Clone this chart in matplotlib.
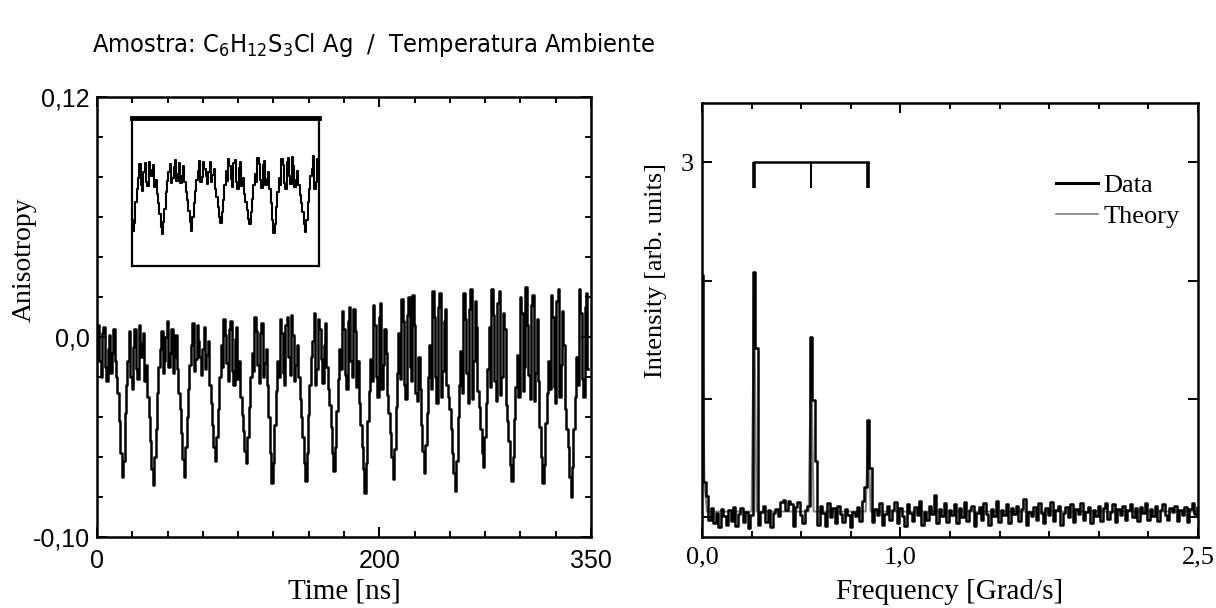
import numpy as np
import matplotlib.pyplot as plt
from matplotlib.lines import Line2D
from matplotlib.ticker import MultipleLocator

plt.rcParams['mathtext.fontset'] = 'custom'
plt.rcParams['mathtext.rm'] = 'DejaVu Sans:stretch=condensed'

# left panel: anisotropy, 1 ns samples
# (kept as two lists: even ns and odd ns)
anis_even = [
    -0.004, -0.012, 0.002, -0.015, -0.006, -0.018, 0.004, -0.020, -0.042, -0.070,
    -0.038, -0.012, -0.020, -0.005, -0.016, 0.006, -0.010, -0.022, -0.030, -0.052,
    -0.074, -0.046, -0.015, 0.003, -0.012, 0.008, -0.008, -0.018, 0.001, -0.028,
    -0.048, -0.070, -0.040, -0.014, 0.007, -0.011, -0.002, -0.019, 0.005, -0.009,
    -0.024, -0.044, -0.062, -0.036, -0.004, 0.009, -0.013, 0.004, -0.017, -0.001,
    -0.021, -0.030, -0.047, -0.063, -0.035, -0.008, 0.010, -0.014, 0.002, -0.020,
    -0.006, -0.040, -0.073, -0.044, -0.012, 0.009, -0.018, 0.006, -0.010, 0.011,
    -0.022, -0.004, -0.031, -0.050, -0.072, -0.039, -0.010, 0.012, -0.016, 0.004,
    -0.023, 0.007, -0.026, -0.045, -0.067, -0.037, -0.006, 0.013, -0.019, 0.008,
    -0.012, 0.014, -0.025, -0.033, -0.055, -0.078, -0.042, -0.011, 0.016, -0.020,
    0.010, -0.026, 0.004, -0.029, -0.048, -0.071, -0.035, 0.002, 0.019, -0.024,
    0.011, -0.015, 0.021, -0.028, -0.010, -0.044, -0.068, -0.038, -0.004, 0.023,
    -0.020, 0.015, -0.030, 0.008, -0.024, -0.036, -0.058, -0.077, -0.040, -0.007,
    0.022, -0.018, 0.014, -0.031, 0.018, -0.027, -0.046, -0.065, -0.033, 0.005,
    0.024, -0.022, 0.017, -0.029, 0.012, -0.034, -0.052, -0.072, -0.041, -0.009,
    0.020, -0.027, 0.025, -0.019, 0.016, -0.032, 0.009, -0.045, -0.073, -0.043,
    -0.012, 0.021, -0.025, 0.018, -0.030, 0.013, -0.036, -0.055, -0.080, -0.046,
    -0.010, 0.024, -0.021, 0.015, -0.016,
]
anis_odd = [
    0.006, -0.020, 0.005, -0.022, 0.001, -0.008, -0.012, -0.028, -0.058, -0.062,
    -0.024, 0.003, -0.026, 0.004, -0.021, -0.003, 0.002, -0.014, -0.040, -0.066,
    -0.060, -0.028, -0.006, -0.018, 0.000, -0.015, 0.004, -0.010, -0.016, -0.036,
    -0.061, -0.055, -0.026, -0.004, -0.017, 0.006, -0.010, -0.006, -0.016, -0.002,
    -0.033, -0.055, -0.050, -0.020, -0.015, 0.001, -0.022, 0.008, -0.024, 0.005,
    -0.012, -0.039, -0.057, -0.050, -0.020, -0.017, 0.003, -0.023, 0.007, -0.013,
    -0.024, -0.058, -0.063, -0.027, -0.020, 0.002, -0.024, 0.010, -0.019, 0.001,
    -0.014, -0.020, -0.040, -0.063, -0.058, -0.024, -0.002, -0.024, 0.009, -0.011,
    -0.004, -0.015, -0.034, -0.058, -0.055, -0.021, -0.016, 0.004, -0.026, 0.015,
    -0.020, 0.003, -0.012, -0.044, -0.066, -0.063, -0.027, -0.022, 0.006, -0.030,
    0.017, -0.014, -0.008, -0.038, -0.060, -0.056, -0.018, -0.021, 0.008, -0.031,
    0.020, -0.022, 0.006, -0.032, -0.026, -0.057, -0.054, -0.020, -0.026, 0.010,
    -0.033, 0.022, -0.017, 0.014, -0.030, -0.046, -0.068, -0.062, -0.024, -0.028,
    0.009, -0.033, 0.024, -0.012, 0.005, -0.035, -0.058, -0.050, -0.016, -0.025,
    0.011, -0.032, 0.023, -0.020, 0.004, -0.042, -0.064, -0.060, -0.025, -0.030,
    0.012, -0.015, 0.006, -0.031, 0.021, -0.018, -0.022, -0.060, -0.064, -0.028,
    -0.026, 0.010, -0.033, 0.024, -0.014, -0.004, -0.046, -0.070, -0.065, -0.030,
    -0.024, 0.012, -0.030, 0.022,
]
inset_window = (17, 158)

# right panel: spectrum on a 0.0125 Grad/s grid
freq = np.linspace(0, 2.5, 201)
intensity = [
    2.05, 0.30, 0.18, -0.02, 0.08, -0.05, 0.04, -0.08, 0.07, 0.01,
    -0.06, 0.06, -0.03, 0.09, -0.07, 0.03, 0.08, -0.04, 0.05, -0.09,
    0.02, 2.07, 1.43, -0.06, 0.05, 0.10, -0.04, 0.06, -0.08, 0.04,
    0.07, 0.01, 0.13, 0.15, 0.06, 0.14, 0.11, -0.07, 0.09, 0.13,
    0.02, -0.05, 0.06, 0.10, 1.52, 0.99, 0.48, -0.06, 0.10, 0.04,
    -0.07, 0.12, 0.00, 0.08, -0.05, 0.10, 0.03, -0.04, 0.07, 0.02,
    -0.08, 0.05, 0.01, 0.09, -0.03, 0.14, 0.26, 0.82, 0.42, -0.04,
    0.07, 0.02, 0.12, -0.06, 0.03, 0.10, -0.02, 0.06, 0.13, -0.05,
    0.08, 0.01, -0.07, 0.11, 0.04, -0.03, 0.09, 0.02, 0.14, -0.06,
    0.05, -0.02, 0.10, 0.03, 0.19, -0.05, 0.07, 0.01, 0.12, -0.04,
    0.06, 0.02, 0.11, -0.05, 0.08, 0.00, 0.13, -0.03, 0.06, 0.10,
    -0.07, 0.04, 0.09, -0.02, 0.12, 0.03, -0.06, 0.07, 0.01, 0.14,
    -0.04, 0.06, 0.02, 0.11, -0.05, 0.08, 0.03, 0.10, -0.03, 0.07,
    0.16, -0.06, 0.05, 0.01, 0.09, -0.02, 0.12, 0.04, -0.05, 0.08,
    0.02, 0.13, -0.03, 0.06, 0.10, -0.06, 0.04, 0.09, 0.00, 0.11,
    -0.04, 0.07, 0.03, 0.12, -0.02, 0.05, 0.09, -0.05, 0.06, 0.01,
    0.10, -0.03, 0.08, 0.12, -0.01, 0.05, 0.11, -0.04, 0.07, 0.02,
    0.10, -0.02, 0.06, 0.11, 0.00, 0.08, -0.03, 0.09, 0.04, 0.12,
    -0.02, 0.07, 0.01, 0.10, -0.03, 0.06, 0.11, 0.02, -0.02, 0.08,
    0.05, 0.10, -0.03, 0.06, 0.02, 0.09, -0.04, 0.07, 0.12, 0.03,
    0.09,
]
theory_freq = [0.0, 0.0125, 0.025, 0.25, 0.2625, 0.275, 0.5375, 0.55, 0.5625,
               0.825, 0.8375, 0.85, 2.5]
theory_int = [2.0, 0.28, 0.05, 0.05, 1.95, 0.05, 0.05, 1.45, 0.05,
              0.05, 0.78, 0.05, 0.05]
peak_freqs = [0.2625, 0.55, 0.8375]

# merge even / odd samples into one trace
anisotropy = np.empty(len(anis_even) + len(anis_odd))
anisotropy[0::2] = anis_even
anisotropy[1::2] = anis_odd
time_ns = np.arange(len(anisotropy))

serif = 'Liberation Serif'
sans = 'Liberation Sans'

fig = plt.figure(figsize=(12.16, 6.08), dpi=100)

fig.text(92/1216, 1 - 45/608,
         r'Amostra: C$_6$H$_{12}$S$_3$Cl Ag  /  Temperatura Ambiente',
         family='DejaVu Sans', stretch='condensed', fontsize=18.2,
         va='center', ha='left')

def style_axes(ax):
    for s in ax.spines.values():
        s.set_linewidth(1.8)
    ax.tick_params(which='both', direction='in', top=True, right=True, width=1.4)
    ax.tick_params(which='major', length=7, pad=9)
    ax.tick_params(which='minor', length=4)

# ---- left: anisotropy
ax1 = fig.add_axes([97/1216, 1 - 537/608, 494/1216, 440/608])
ax1.plot(time_ns, anisotropy, drawstyle='steps-mid', color='black', lw=1.8)
ax1.set_xlim(0, 350)
ax1.set_ylim(-0.10, 0.12)
ax1.set_xticks([0, 200, 350])
ax1.set_xticklabels(['0', '200', '350'], family=sans, fontsize=18)
ax1.set_yticks([-0.10, 0.0, 0.12])
ax1.set_yticklabels(['-0,10', '0,0', '0,12'], family=sans, fontsize=18)
ax1.xaxis.set_minor_locator(MultipleLocator(25))
ax1.yaxis.set_minor_locator(MultipleLocator(0.02))
style_axes(ax1)
ax1.tick_params(axis='y', which='major', pad=5)
ax1.set_xlabel('Time [ns]', family=serif, fontsize=21)
ax1.set_ylabel('Anisotropy', family=serif, fontsize=20)
ax1.yaxis.set_label_coords(-0.121, 0.63)
ax1.xaxis.set_label_coords(0.5, -0.095)

# inset: first periods of the same data
axi = fig.add_axes([132/1216, 1 - 266/608, 187/1216, 148/608])
axi.plot(time_ns, anisotropy, drawstyle='steps-mid', color='black', lw=1.5)
axi.set_xlim(*inset_window)
axi.set_ylim(-0.109, 0.054)
axi.set_xticks([])
axi.set_yticks([])
for s in axi.spines.values():
    s.set_linewidth(1.6)
axi.spines['top'].set_linewidth(3.5)

# ---- right: spectrum
ax2 = fig.add_axes([702/1216, 1 - 537/608, 496/1216, 434/608])
ax2.plot(theory_freq, theory_int, color='#808080', lw=1.4)
ax2.plot(freq, intensity, drawstyle='steps-mid', color='black', lw=1.8)
ax2.plot([peak_freqs[0], peak_freqs[-1]], [3.0, 3.0], color='black', lw=1.8)
for k, f in enumerate(peak_freqs):
    lw = 1.4 if k == 1 else 2.6
    ax2.plot([f, f], [2.78, 3.0], color='black', lw=lw, solid_capstyle='butt')
ax2.set_xlim(0, 2.5)
ax2.set_ylim(-0.165, 3.5)
ax2.set_xticks([0, 1.0, 2.5])
ax2.set_xticklabels(['0,0', '1,0', '2,5'], family=serif, fontsize=19)
ax2.set_yticks([0, 1, 2, 3])
ax2.set_yticklabels(['', '', '', '3'], family=serif, fontsize=19)
ax2.xaxis.set_minor_locator(MultipleLocator(0.25))
style_axes(ax2)
ax2.tick_params(axis='x', which='major', pad=7)
ax2.tick_params(axis='y', which='major', pad=6)
ax2.set_xlabel('Frequency [Grad/s]', family=serif, fontsize=21)
ax2.set_ylabel('Intensity [arb. units]', family=serif, fontsize=19)
ax2.yaxis.set_label_coords(-0.07, 0.615)
ax2.xaxis.set_label_coords(0.5, -0.096)

handles = [Line2D([], [], color='black', lw=2.2),
           Line2D([], [], color='#808080', lw=1.2)]
ax2.legend(handles, ['Data', 'Theory'], loc='upper right',
           bbox_to_anchor=(1.0, 0.88), frameon=False,
           prop={'family': serif, 'size': 19},
           handlelength=1.6, handletextpad=0.2, labelspacing=0.3,
           borderaxespad=0.3)

fig.savefig('out.png', dpi=100)
